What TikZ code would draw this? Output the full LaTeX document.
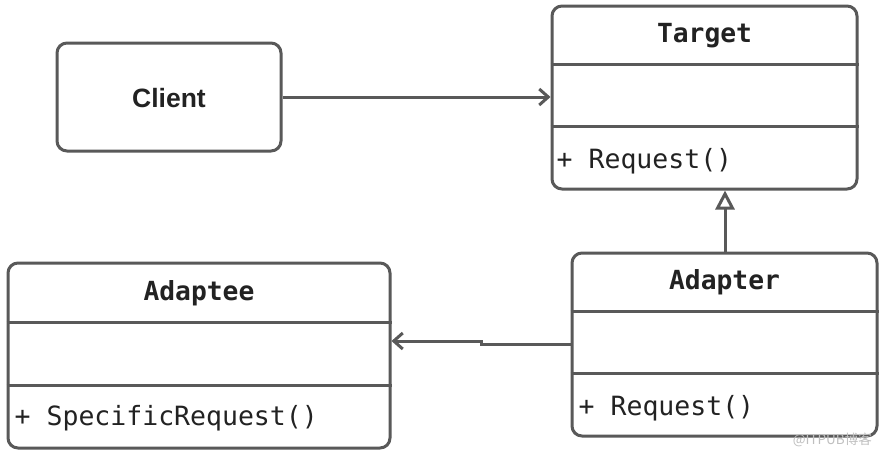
\documentclass[tikz,border=0pt]{standalone}
\usepackage{fontspec}
\setmonofont{DejaVu Sans Mono}
\newfontfamily\clientfont{Liberation Sans}
\newfontfamily\cjkfont{Noto Sans CJK SC}
\usetikzlibrary{arrows.meta}
\definecolor{linegray}{HTML}{595959}
\definecolor{textdark}{HTML}{222222}
\tikzset{
  box/.style={draw=linegray, line width=3pt, rounded corners=10pt, rectangle, fill=white, inner sep=0pt},
  conn/.style={draw=linegray, line width=3pt},
  title/.style={font=\ttfamily\bfseries\fontsize{26.3}{30}\selectfont, text=textdark, inner sep=0pt},
  member/.style={font=\ttfamily\fontsize{26.5}{30}\selectfont, text=textdark, inner sep=0pt, anchor=west},
  divider/.style={draw=linegray, line width=3pt},
}
\begin{document}
\begin{tikzpicture}[x=1pt,y=-1pt]
\useasboundingbox[fill=white] (0,0) rectangle (890,453);
% boxes
\node[box, minimum width=305pt, minimum height=183pt] (T) at (704.5,97.5) {};
\node[box, minimum width=224pt, minimum height=108pt] (C) at (169,97) {};
\node[box, minimum width=382pt, minimum height=185pt] (Ae) at (199,355.5) {};
\node[box, minimum width=305pt, minimum height=183pt] (Ar) at (724.5,344.5) {};
% dividers
\draw[divider] ([yshift=-60pt]T.north west) -- ([yshift=-60pt]T.north east);
\draw[divider] ([yshift=-122pt]T.north west) -- ([yshift=-122pt]T.north east);
\draw[divider] ([yshift=-61pt]Ae.north west) -- ([yshift=-61pt]Ae.north east);
\draw[divider] ([yshift=-124pt]Ae.north west) -- ([yshift=-124pt]Ae.north east);
\draw[divider] ([yshift=-60pt]Ar.north west) -- ([yshift=-60pt]Ar.north east);
\draw[divider] ([yshift=-122pt]Ar.north west) -- ([yshift=-122pt]Ar.north east);
% texts
\node[font=\clientfont\bfseries\fontsize{26.5}{30}\selectfont, text=textdark] (Ct) at ([yshift=-1pt]C.center) {Client};
\node[title] (Tt) at ([yshift=-31pt]T.north) {Target};
\node[title] (Aet) at ([yshift=-32pt]Ae.north) {Adaptee};
\node[title] (Art) at ([yshift=-31pt]Ar.north) {Adapter};
\node[member] (Tm) at ([xshift=6pt,yshift=-157pt]T.north west) {+ Request()};
\node[member] (Aem) at ([xshift=8pt,yshift=-157pt]Ae.north west) {+ SpecificRequest()};
\node[member] (Arm) at ([xshift=8pt,yshift=-157pt]Ar.north west) {+ Request()};
% connectors
\draw[conn, -{Straight Barb[length=9pt,width=16pt,line width=3pt]}] (C.east) -- (C.east -| T.west);
\coordinate (jog) at (481,341);
\draw[conn, -{Straight Barb[length=9pt,width=16pt,line width=3pt]}] (Ar.west) -- (Ar.west -| jog) -- (jog) -- (jog -| Ae.east);
\coordinate (inhTop) at (725,0);
\draw[conn, -{Triangle[open, length=19pt, width=19pt, line width=3pt]}] (inhTop |- Ar.north) -- (inhTop |- T.south);
% watermark
\node[font=\cjkfont\fontsize{13.5}{15}\selectfont, text=black!25, anchor=east, inner sep=0pt] (wm) at (872,440) {@ITPUB博客};
\end{tikzpicture}
\end{document}
